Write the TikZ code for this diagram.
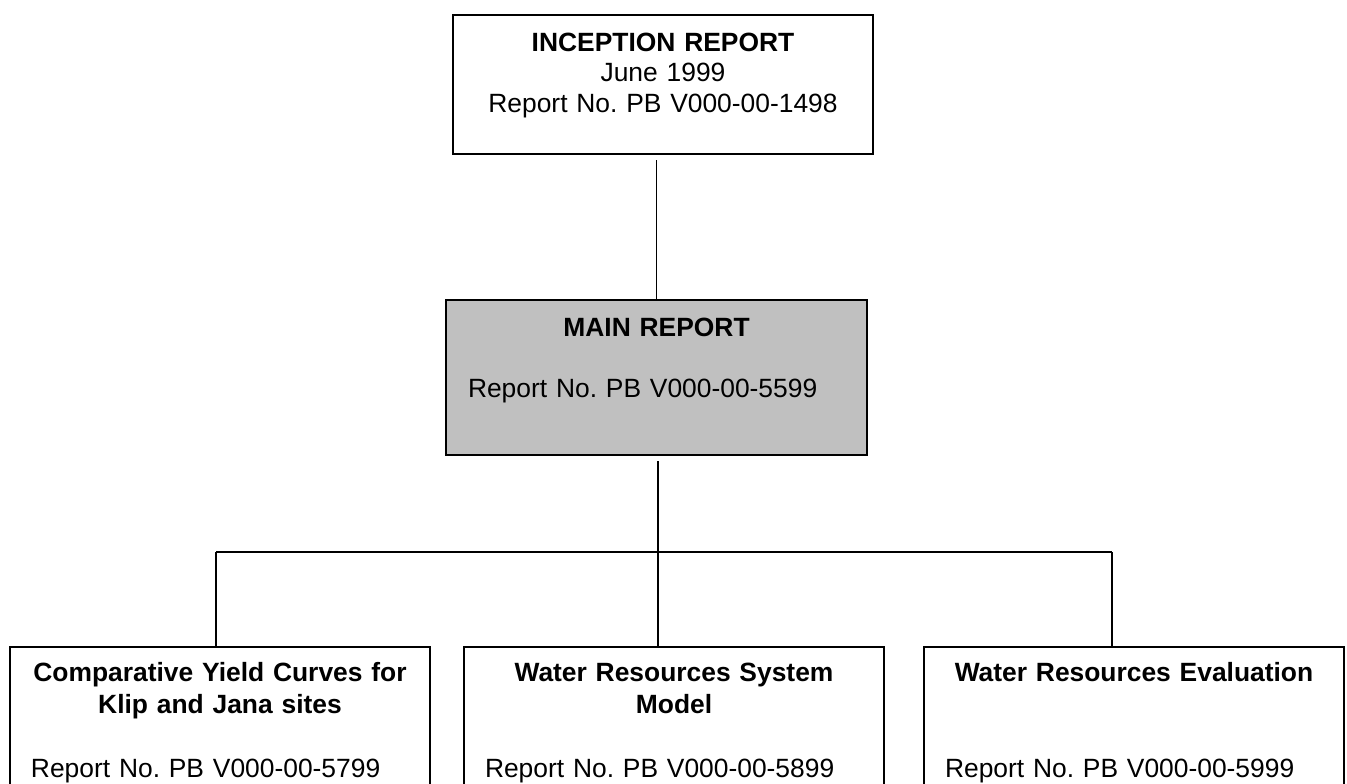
\documentclass[tikz,border=0pt]{standalone}
\usepackage{fontspec}
\setmainfont{Liberation Sans}
\usetikzlibrary{positioning}
\definecolor{reportgray}{RGB}{192,192,192}
\setlength{\parskip}{0pt}
\frenchspacing
\begin{document}
\begin{tikzpicture}[
    x=0.5pt, y=-0.5pt,
    box/.style={draw=black, line width=1pt, inner ysep=0pt, anchor=north west,
        font=\fontsize{13.2}{15.25}\selectfont},
    topbox/.style={box, inner xsep=0pt, text width=210pt, align=center,
        text height=18pt, text depth=51.5pt},
    mainbox/.style={box, fill=reportgray, inner xsep=11pt, text width=188.5pt, align=left,
        text height=18pt, text depth=59.5pt},
    subbox/.style={box, inner xsep=10.5pt, text width=189pt, align=left,
        text height=17pt, text depth=80pt, font=\fontsize{13.2}{16}\selectfont},
    link/.style={draw=black, line width=0.8pt}
]

% Page
\clip (0,0) rectangle (1347,783);

% Reports
\node[topbox] (inception) at (452,14)
    {\textbf{INCEPTION REPORT}\\June 1999\\Report No. PB V000-00-1498};
\node[mainbox] (mainrep) at (445,299)
    {{\centering\bfseries MAIN REPORT\par}\vspace{15.25pt}Report No. PB V000-00-5599};

\node[subbox] (yield) at (9,646)
    {{\centering\bfseries Comparative Yield Curves for\\Klip and Jana sites\par}\vspace{16pt}Report No. PB V000-00-5799};
\node[subbox] (model) at (463,646)
    {{\centering\bfseries Water Resources System\\Model\par}\vspace{16pt}Report No. PB V000-00-5899};
\node[subbox] (evaluation) at (923,646)
    {{\centering\bfseries Water Resources Evaluation\par}\vspace{32pt}Report No. PB V000-00-5999};

% Junctions
\coordinate (hub) at (658,552);
\coordinate (jl) at (216,552);
\coordinate (jr) at (1112,552);

% Connectors
\draw[link, shorten <=2.5pt] (mainrep.north |- inception.south) -- (mainrep.north);
\draw[link, shorten <=2.5pt] (hub |- mainrep.south) -- (hub |- model.north);
\draw[link] (jl) -- (jr);
\draw[link] (jl) -- (jl |- yield.north);
\draw[link] (jr) -- (jr |- evaluation.north);

\end{tikzpicture}
\end{document}
